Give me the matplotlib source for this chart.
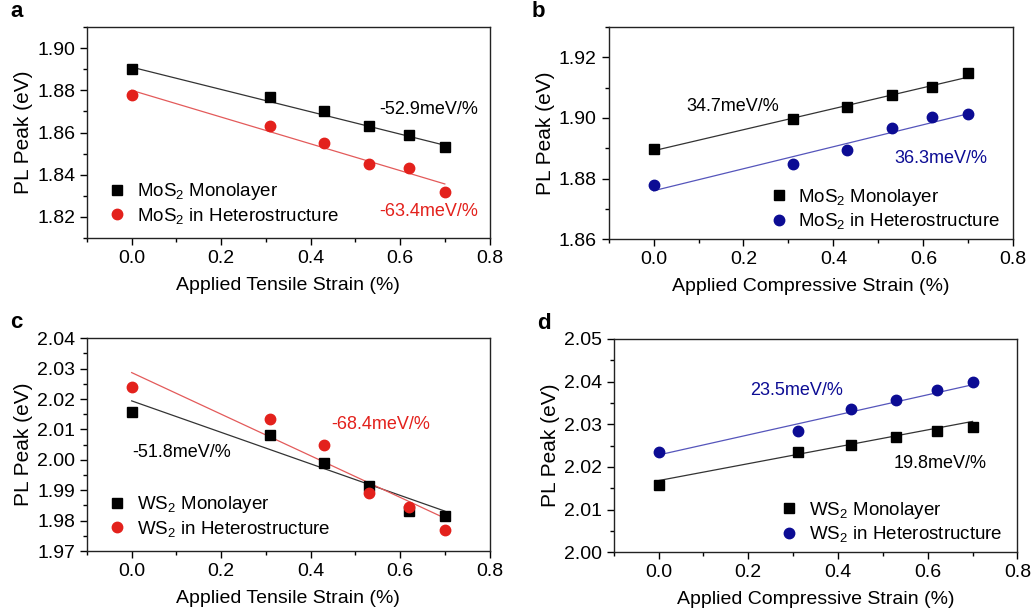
import numpy as np
import matplotlib
matplotlib.use('Agg')
import matplotlib.pyplot as plt
from matplotlib.ticker import MultipleLocator

plt.rcParams['font.family'] = ['Liberation Sans', 'DejaVu Sans']
plt.rcParams['mathtext.fontset'] = 'custom'
plt.rcParams['mathtext.rm'] = 'Liberation Sans'
plt.rcParams['mathtext.it'] = 'Liberation Sans'

# data
strain = [0.0, 0.31, 0.43, 0.53, 0.62, 0.70]

a_mono = [1.890, 1.877, 1.870, 1.863, 1.859, 1.853]
a_het = [1.878, 1.863, 1.855, 1.845, 1.843, 1.832]
a_fit = [(1.891, -0.0529), (1.880, -0.0634)]   # intercept, slope (eV/%)

b_mono = [1.8898, 1.8996, 1.9035, 1.9075, 1.9102, 1.9148]
b_het = [1.8778, 1.8849, 1.8896, 1.8968, 1.9003, 1.9014]
b_fit = [(1.8892, 0.0347), (1.8760, 0.0363)]

c_mono = [2.0159, 2.0083, 1.9991, 1.9914, 1.9831, 1.9815]
c_het = [2.0241, 2.0134, 2.0049, 1.9890, 1.9846, 1.9770]
c_fit = [(2.0194, -0.0518), (2.0287, -0.0684)]

d_mono = [2.0157, 2.0235, 2.0252, 2.0269, 2.0283, 2.0293]
d_het = [2.0236, 2.0283, 2.0335, 2.0356, 2.0381, 2.0398]
d_fit = [(2.0168, 0.0198), (2.0228, 0.0235)]

red = '#e3211c'
blue = '#0c0c94'

panels = [
    dict(tag='a', mono=a_mono, het=a_het, fit=a_fit, col=red, lfit='#e35a5a', mat='MoS',
         xl='Applied Tensile Strain (%)', ylim=(1.81, 1.91), minor=0.01,
         yt=[1.82, 1.84, 1.86, 1.88, 1.90],
         ann=[('-52.9meV/%', 0.553, 1.871, 'k'), ('-63.4meV/%', 0.553, 1.8228, red)],
         pos=[0.084, 0.613, 0.389, 0.343], leg=(0.015, -0.005)),
    dict(tag='b', mono=b_mono, het=b_het, fit=b_fit, col=blue, lfit='#5555bb', mat='MoS',
         xl='Applied Compressive Strain (%)', ylim=(1.86, 1.93), minor=0.01,
         yt=[1.86, 1.88, 1.90, 1.92],
         ann=[('34.7meV/%', 0.073, 1.9039, 'k'), ('36.3meV/%', 0.535, 1.8867, blue)],
         pos=[0.588, 0.611, 0.391, 0.345], leg=(0.36, -0.025)),
    dict(tag='c', mono=c_mono, het=c_het, fit=c_fit, col=red, lfit='#e35a5a', mat='WS',
         xl='Applied Tensile Strain (%)', ylim=(1.97, 2.04), minor=0.005,
         yt=[1.97, 1.98, 1.99, 2.00, 2.01, 2.02, 2.03, 2.04],
         ann=[('-51.8meV/%', 0.002, 2.0023, 'k'), ('-68.4meV/%', 0.447, 2.0116, red)],
         pos=[0.084, 0.104, 0.389, 0.346], leg=(0.015, -0.005)),
    dict(tag='d', mono=d_mono, het=d_het, fit=d_fit, col=blue, lfit='#5555bb', mat='WS',
         xl='Applied Compressive Strain (%)', ylim=(2.00, 2.05), minor=0.005,
         yt=[2.00, 2.01, 2.02, 2.03, 2.04, 2.05],
         ann=[('23.5meV/%', 0.203, 2.0380, blue), ('19.8meV/%', 0.523, 2.0207, 'k')],
         pos=[0.593, 0.102, 0.390, 0.347], leg=(0.375, -0.025)),
]

fig = plt.figure(figsize=(10.35, 6.15), dpi=100)
xs = np.array([strain[0], strain[-1]])

for p in panels:
    ax = fig.add_axes(p['pos'])
    ax.plot(strain, p['mono'], 's', color='k', ms=6.5, ls='none',
            label='%s$_2$ Monolayer' % p['mat'])
    ax.plot(strain, p['het'], 'o', color=p['col'], ms=7.5, ls='none',
            label='%s$_2$ in Heterostructure' % p['mat'])
    ax.plot(xs, p['fit'][0][0] + p['fit'][0][1] * xs, color='#333333', lw=0.9, zorder=1)
    ax.plot(xs, p['fit'][1][0] + p['fit'][1][1] * xs, color=p['lfit'], lw=0.9, zorder=1)
    for txt, x, y, c in p['ann']:
        ax.text(x, y, txt, color=c, fontsize=13, va='center', ha='left')

    ax.set_xlim(-0.1, 0.8)
    ax.set_ylim(*p['ylim'])
    ax.set_xticks([0.0, 0.2, 0.4, 0.6, 0.8])
    ax.xaxis.set_minor_locator(MultipleLocator(0.1))
    ax.set_yticks(p['yt'])
    ax.yaxis.set_minor_locator(MultipleLocator(p['minor']))
    ax.yaxis.set_major_formatter(matplotlib.ticker.FormatStrFormatter('%.2f'))
    ax.tick_params(which='both', direction='out', top=False, right=False, labelsize=14)
    ax.tick_params(which='major', length=5, width=1)
    ax.tick_params(which='minor', length=3, width=1)
    for s in ax.spines.values():
        s.set_linewidth(1.0)
        s.set_color('#222222')
    ax.set_xlabel(p['xl'], fontsize=14, labelpad=7)
    ax.set_ylabel('PL Peak (eV)', fontsize=15, labelpad=3)
    ax.legend(loc='lower left', bbox_to_anchor=p['leg'], frameon=False, fontsize=13.5,
              handletextpad=0.45, labelspacing=0.2, handlelength=1.2, borderpad=0.2)
    ax.text(-0.19, 1.025, p['tag'], transform=ax.transAxes, fontsize=16,
            fontweight='bold', va='bottom', ha='left')

fig.savefig('out.png', dpi=100)
